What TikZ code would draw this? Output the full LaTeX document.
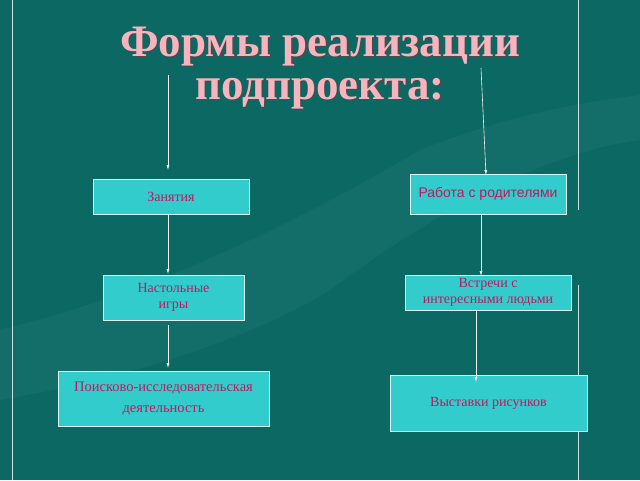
\documentclass[tikz,border=0pt]{standalone}
\usepackage{fontspec}
\setmainfont{Liberation Serif}
\newfontfamily\sansf{Liberation Sans}
\usetikzlibrary{arrows.meta}
\definecolor{bg}{HTML}{0B6863}
\definecolor{boxc}{HTML}{33CCCC}
\definecolor{txt}{HTML}{C0185E}
\definecolor{ttl}{HTML}{F7B4BE}
\begin{document}
\begin{tikzpicture}[x=1pt,y=-1pt,
  bx/.style={draw=white!85!boxc,line width=0.8pt,fill=boxc,text=txt,font=\fontsize{14}{16}\selectfont,align=center,inner sep=0pt},
  ar/.style={white!90!gray,line width=0.6pt,-{Latex[length=5pt,width=3pt]}}]
\fill[bg] (0,0) rectangle (640,480);
\useasboundingbox (0,0) rectangle (640,480);
\fill[white,opacity=0.035] (0,330) .. controls (120,300) and (250,250) .. (420,150) .. controls (520,110) and (600,100) .. (640,95) -- (640,140) .. controls (560,150) and (450,200) .. (330,290) .. controls (250,340) and (120,380) .. (0,400) -- cycle;
\draw[white!80!bg,line width=0.6pt] (12,0) -- (12,480);
\draw[white!80!bg,line width=0.6pt] (578,0) -- (578,210);
\draw[white!80!bg,line width=0.6pt] (578,285) -- (578,480);
\node[text=black!70,font=\bfseries\fontsize{45}{43}\selectfont,align=center] at (321.5,69.5) {Формы реализации\\подпроекта:};
\node (title) [text=ttl,font=\bfseries\fontsize{45}{43}\selectfont,align=center] at (320,68) {Формы реализации\\подпроекта:};
\node (z) [bx,minimum width=156pt,minimum height=35pt] at (171,196.5) {Занятия};
\node (r) [bx,minimum width=156pt,minimum height=40pt,font=\sansf\fontsize{14}{16}\selectfont] at (488,194) {Работа с родителями};
\node (n) [bx,minimum width=141pt,minimum height=45pt] at (173.5,297.5) {Настольные\\игры};
\node (v) [bx,minimum width=166pt,minimum height=35pt] at (488,292.5) {Встречи с\\интересными людьми};
\node (p) [bx,minimum width=211pt,minimum height=55pt,font=\fontsize{14.5}{21}\selectfont] at (163.5,398.5) {Поисково-исследовательская\\деятельность};
\node (w) [bx,minimum width=197pt,minimum height=56pt] at (488.5,403) {Выставки рисунков};
\coordinate (t1) at (168,75);
\coordinate (e1) at (168,170);
\coordinate (t2) at (481,68);
\coordinate (e2) at (486,175);
\coordinate (a1) at (168,215);
\coordinate (b1) at (168,274);
\coordinate (a2) at (168,325);
\coordinate (b2) at (168,368);
\coordinate (a3) at (481,215);
\coordinate (b3) at (481,276);
\coordinate (a4) at (476,311);
\coordinate (b4) at (476,382);
\draw[ar] (t1) -- (e1);
\draw[ar] (t2) -- (e2);
\draw[ar] (a1) -- (b1);
\draw[ar] (a2) -- (b2);
\draw[ar] (a3) -- (b3);
\draw[ar] (a4) -- (b4);
\end{tikzpicture}
\end{document}
